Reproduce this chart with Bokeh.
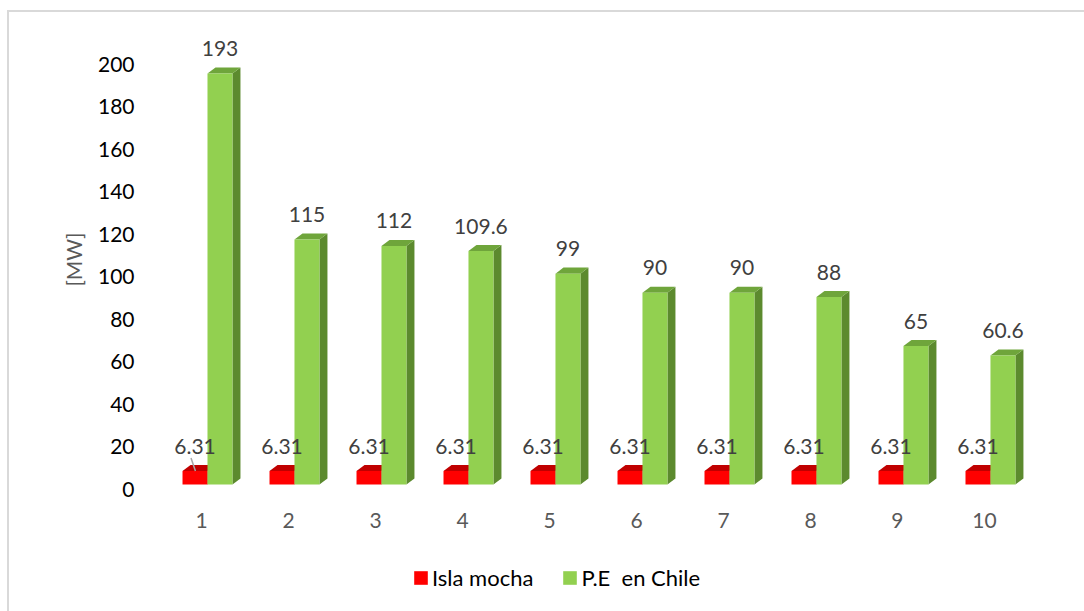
from bokeh.plotting import figure
from bokeh.layouts import column
from bokeh.models import Range1d, FixedTicker, Legend, LegendItem
from bokeh.core.properties import value
from bokeh.embed import file_html
from bokeh.resources import INLINE

# ---- data ----
categories = [1, 2, 3, 4, 5, 6, 7, 8, 9, 10]
category_labels = ["1", "2", "3", "4", "5", "6", "7", "8", "9", "10"]
isla_mocha = [6.31, 6.31, 6.31, 6.31, 6.31, 6.31, 6.31, 6.31, 6.31, 6.31]
pe_chile = [193, 115, 112, 109.6, 99, 90, 90, 88, 65, 60.6]
isla_labels = ["6.31"] * 10
pe_labels = ["193", "115", "112", "109.6", "99", "90", "90", "88", "65", "60.6"]
series_names = ["Isla mocha", "P.E  en Chile"]
y_ticks = [0, 20, 40, 60, 80, 100, 120, 140, 160, 180, 200]

FONT = "Lato"
FS = "21px"
RED, RED_TOP, RED_SIDE = "#FF0000", "#C00000", "#A00000"
GRN, GRN_TOP, GRN_SIDE = "#92D050", "#6FA53B", "#5C8A2E"

# ---- geometry (style) ----
BW = 0.287      # bar front width in category units
DX = 0.092      # depth offset x
DY = 2.82       # depth offset y (bar range units)

p = figure(width=1075, height=533, output_backend="svg", toolbar_location=None,
           x_range=Range1d(0.299, 10.874), y_range=Range1d(-4.235, 220.7),
           min_border_left=137, min_border_right=18, min_border_top=8,
           min_border_bottom=47)
p.extra_y_ranges = {"bars": Range1d(-6.573, 217.84)}
p.extra_x_ranges = {"labels": Range1d(0.368, 10.943)}
p.outline_line_color = None
p.grid.visible = False
p.background_fill_color = "white"
p.border_fill_color = "white"

def faces(centers, vals):
    left = [c - BW / 2 for c in centers]
    right = [c + BW / 2 for c in centers]
    top_xs = [[l, r, r + DX, l + DX] for l, r in zip(left, right)]
    top_ys = [[v, v, v + DY, v + DY] for v in vals]
    side_xs = [[r, r, r + DX, r + DX] for r in right]
    side_ys = [[0, v, v + DY, DY] for v in vals]
    return left, right, top_xs, top_ys, side_xs, side_ys

red_c = [c - BW / 2 for c in categories]
grn_c = [c + BW / 2 for c in categories]

rl, rr, rtx, rty, rsx, rsy = faces(red_c, isla_mocha)
gl, gr, gtx, gty, gsx, gsy = faces(grn_c, pe_chile)

# red bars
p.patches(rsx, rsy, fill_color=RED_SIDE, line_color=None, y_range_name="bars")
p.patches(rtx, rty, fill_color=RED_TOP, line_color=None, y_range_name="bars")
p.quad(left=rl, right=rr, bottom=[0] * 10, top=isla_mocha,
       fill_color=RED, line_color=None, y_range_name="bars")
# green bars
p.patches(gsx, gsy, fill_color=GRN_SIDE, line_color=None, y_range_name="bars")
p.patches(gtx, gty, fill_color=GRN_TOP, line_color=None, y_range_name="bars")
p.quad(left=gl, right=gr, bottom=[0] * 10, top=pe_chile,
       fill_color=GRN, line_color=None, y_range_name="bars")

# leader line for first red label
p.segment(x0=[red_c[0] - 0.046], y0=[isla_mocha[0] + 6.1],
          x1=[red_c[0] + 0.005], y1=[isla_mocha[0]],
          line_color="#A6A6A6", line_width=1.5, y_range_name="bars")

# data labels
p.text(x=red_c, y=isla_mocha, text=isla_labels, y_range_name="bars",
       text_align="center", text_baseline="middle", y_offset=-25,
       text_font=value(FONT), text_font_size=FS, text_color="#404040")
p.text(x=grn_c, y=pe_chile, text=pe_labels, y_range_name="bars",
       text_align="center", text_baseline="middle", y_offset=-25,
       text_font=value(FONT), text_font_size=FS, text_color="#404040")

# axes
ya = p.yaxis[0]
ya.ticker = FixedTicker(ticks=y_ticks)
ya.axis_line_color = None
ya.major_tick_line_color = None
ya.minor_tick_line_color = None
ya.major_label_text_font = FONT
ya.major_label_text_font_size = FS
ya.major_label_text_color = "#000000"
ya.major_label_standoff = 6
ya.axis_label = "[MW]"
ya.axis_label_text_font = FONT
ya.axis_label_text_font_size = FS
ya.axis_label_text_font_style = "normal"
ya.axis_label_text_color = "#595959"
ya.axis_label_standoff = 9

xa = p.xaxis[0]
xa.x_range_name = "labels"
xa.ticker = FixedTicker(ticks=categories)
xa.major_label_overrides = {c: l for c, l in zip(categories, category_labels)}
xa.axis_line_color = None
xa.major_tick_line_color = None
xa.minor_tick_line_color = None
xa.major_label_text_font = FONT
xa.major_label_text_font_size = FS
xa.major_label_text_color = "#595959"
xa.major_label_standoff = 8

# ---- legend strip ----
leg = figure(width=1075, height=66, output_backend="svg", toolbar_location=None,
             x_range=Range1d(0, 1), y_range=Range1d(0, 1),
             x_axis_type=None, y_axis_type=None, min_border=0)
leg.outline_line_color = None
leg.grid.visible = False
r_red = leg.quad(left=[0], right=[0], bottom=[0], top=[0], fill_color=RED, line_color=None)
r_grn = leg.quad(left=[0], right=[0], bottom=[0], top=[0], fill_color=GRN, line_color=None)
legend = Legend(items=[LegendItem(label=series_names[0], renderers=[r_red]),
                       LegendItem(label=series_names[1], renderers=[r_grn])],
                orientation="horizontal", location=(266, 20),
                glyph_width=17, glyph_height=17, label_standoff=3, spacing=28,
                label_text_font=FONT, label_text_font_size="22px",
                label_text_color="#000000", border_line_color=None,
                background_fill_alpha=0, padding=10, margin=0)
leg.add_layout(legend, "center")

layout = column(p, leg, spacing=0, margin=(10, 0, 0, 7),
                styles={"border-left": "2px solid #D9D9D9",
                        "border-top": "2px solid #D9D9D9"})

open("out.html", "w").write(file_html(layout, INLINE))
